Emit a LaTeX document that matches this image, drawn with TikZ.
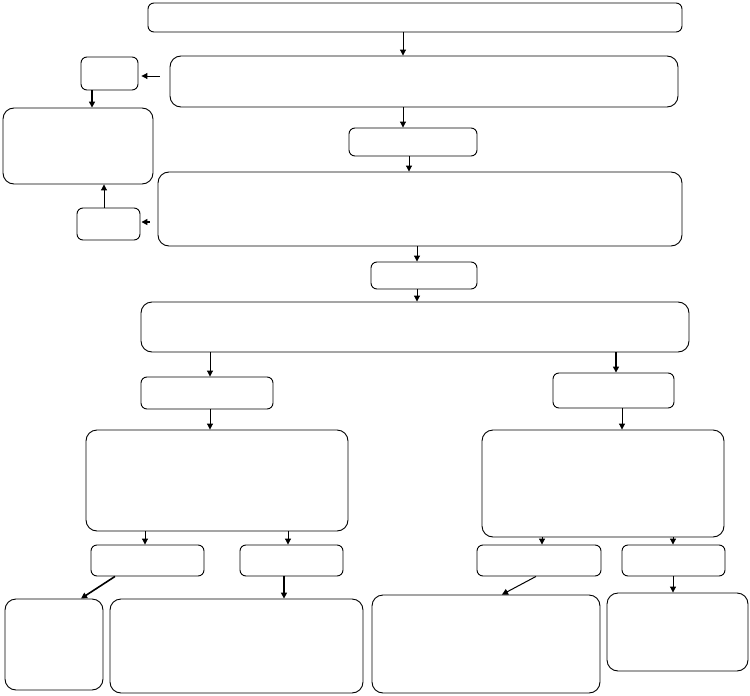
\documentclass[tikz,border=0pt]{standalone}
\usetikzlibrary{arrows.meta}
\begin{document}
\begin{tikzpicture}[x=1pt,y=-1pt,
  box/.style={draw=black, line width=0.9pt, rounded corners=6pt, inner sep=0pt},
  bigbox/.style={box, rounded corners=11pt},
  arr/.style={line width=1pt, -{Triangle[length=6pt,width=6pt]}},
  tarr/.style={arr, line width=1.6pt}]
\useasboundingbox[fill=white] (0,0) rectangle (750,696);
\node[box, minimum width=534pt, minimum height=29pt] (b1) at (415,17.5) {};
\node[bigbox, minimum width=508pt, minimum height=51pt] (b2) at (424,81.5) {};
\node[box, minimum width=57pt, minimum height=33pt] (b3) at (109.5,73.5) {};
\node[bigbox, minimum width=150pt, minimum height=76pt] (b4) at (78,146) {};
\node[box, minimum width=63pt, minimum height=32pt] (b5) at (108.5,224) {};
\node[box, minimum width=128pt, minimum height=28pt] (b6) at (413,142) {};
\node[bigbox, minimum width=524pt, minimum height=74pt] (b7) at (420,209) {};
\node[box, minimum width=106pt, minimum height=27pt] (b8) at (424,275.5) {};
\node[bigbox, minimum width=548pt, minimum height=50pt] (b9) at (415,327) {};
\node[box, minimum width=132pt, minimum height=32pt] (b10) at (207,393) {};
\node[box, minimum width=121pt, minimum height=35pt] (b11) at (613.5,390.5) {};
\node[bigbox, minimum width=262pt, minimum height=101pt] (b12) at (217,480.5) {};
\node[bigbox, minimum width=242pt, minimum height=107pt] (b13) at (603,483.5) {};
\node[box, minimum width=113pt, minimum height=31pt] (b14) at (147.5,560.5) {};
\node[box, minimum width=103pt, minimum height=31pt] (b15) at (291.5,560.5) {};
\node[box, minimum width=124pt, minimum height=31pt] (b16) at (539,560.5) {};
\node[box, minimum width=103pt, minimum height=31pt] (b17) at (673.5,560.5) {};
\node[bigbox, minimum width=98pt, minimum height=91pt] (b18) at (54,644.5) {};
\node[bigbox, minimum width=253pt, minimum height=94pt] (b19) at (236.5,646) {};
\node[bigbox, minimum width=228pt, minimum height=98pt] (b20) at (486,644) {};
\node[bigbox, minimum width=141pt, minimum height=78pt] (b21) at (677.5,632) {};
% connectors
\draw[arr] ([xshift=-12pt]b1.south) -- ([xshift=-21pt]b2.north);
\draw[arr, shorten >=3pt] ([xshift=-10pt,yshift=5.5pt]b2.west) -- ([yshift=-2.5pt]b3.east);
\draw[tarr] ([xshift=-17.5pt]b3.south) -- ([xshift=14pt]b4.north);
\draw[arr] ([xshift=-21pt]b2.south) -- ([xshift=-10pt]b6.north);
\draw[arr] ([xshift=-4pt]b6.south) -- ([xshift=-11pt]b7.north);
\draw[tarr, shorten >=1pt] ([xshift=-8pt,yshift=-13pt]b7.west) -- ([yshift=2pt]b5.east);
\draw[arr] ([xshift=-4.5pt]b5.north) -- ([xshift=26pt]b4.south);
\draw[arr] ([xshift=-3pt]b7.south) -- ([xshift=-7pt]b8.north);
\draw[arr] ([xshift=-7pt]b8.south) -- ([xshift=2pt]b9.north);
\draw[arr] ([xshift=-205pt]b9.south) -- ([xshift=3pt]b10.north);
\draw[tarr] ([xshift=201pt]b9.south) -- ([xshift=2.5pt]b11.north);
\draw[arr] ([xshift=3pt]b10.south) -- ([xshift=-7pt]b12.north);
\draw[arr] ([xshift=8.5pt]b11.south) -- ([xshift=19pt]b13.north);
\draw[arr] ([xshift=-72pt]b12.south) -- ([xshift=-2.5pt]b14.north);
\draw[arr] ([xshift=71pt]b12.south) -- ([xshift=-3.5pt]b15.north);
\draw[arr] ([xshift=-61pt]b13.south) -- ([xshift=3pt]b16.north);
\draw[arr] ([xshift=70pt]b13.south) -- ([xshift=-0.5pt]b17.north);
\draw[tarr] ([xshift=-32.5pt]b14.south) -- ([xshift=27pt]b18.north);
\draw[tarr] ([xshift=-7.5pt]b15.south) -- ([xshift=47.5pt]b19.north);
\draw[arr] ([xshift=-3pt]b16.south) -- ([xshift=16pt]b20.north);
\draw[arr] ([xshift=-0.5pt]b17.south) -- ([xshift=-4.5pt]b21.north);
\end{tikzpicture}
\end{document}
